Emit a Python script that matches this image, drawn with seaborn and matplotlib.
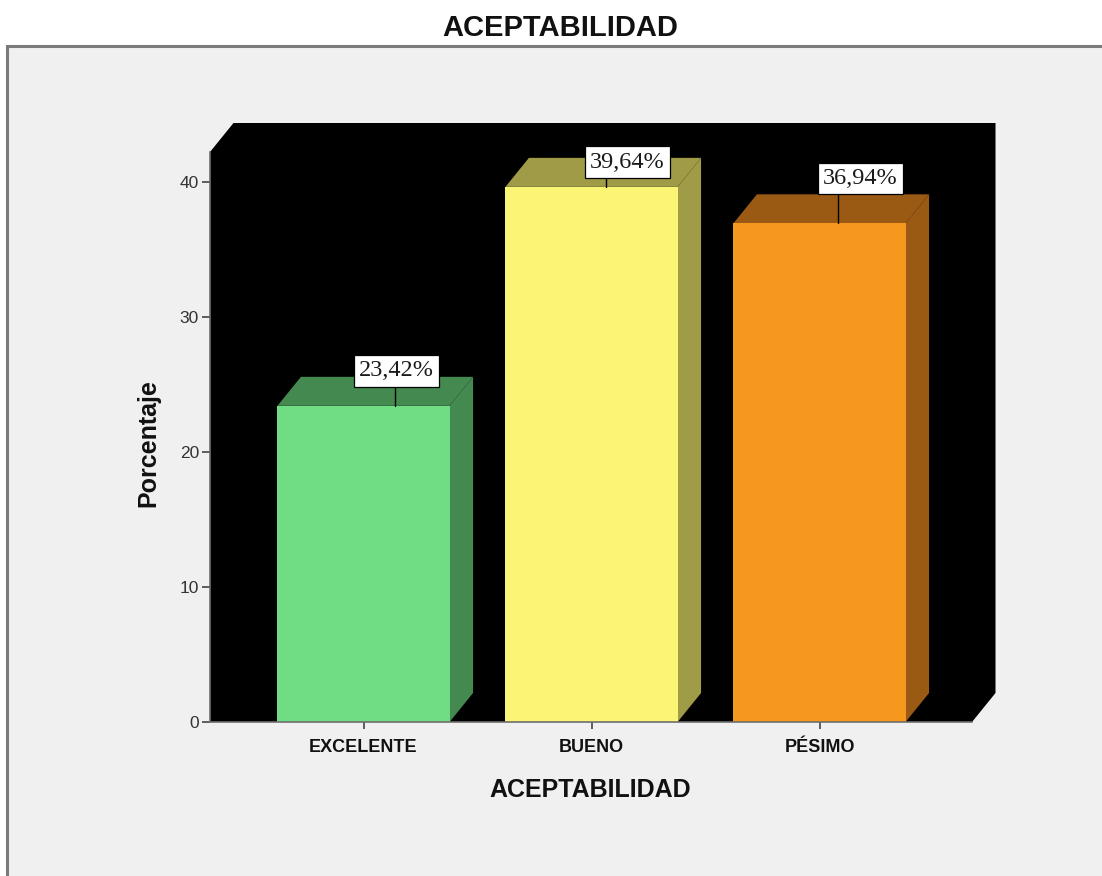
import matplotlib
matplotlib.use("Agg")
import matplotlib.pyplot as plt
from matplotlib.patches import Polygon, Rectangle
from matplotlib.transforms import IdentityTransform
import seaborn as sns
import pandas as pd

# Data
categories = ["EXCELENTE", "BUENO", "PÉSIMO"]
percentages = [23.42, 39.64, 36.94]
value_labels = ["23,42%", "39,64%", "36,94%"]
y_ticks = [0, 10, 20, 30, 40]

# Styling
front_colors = ["#70DC84", "#FAF575", "#F7981E"]
shade_colors = ["#448950", "#A09B46", "#9B5A14"]
depth_px = (23.5, 29.0)          # 3D depth offset of bars and back wall, in pixels
# per-bar label placement: (leader x offset from bar centre, gap above bar, box x offset from leader)
label_layout = [(31, 19, 2), (14, 9, 22), (18, 29, 23)]
label_size = 17.5
label_pad = 0.22

sns.set_theme(style="white")
plt.rcParams["font.family"] = ["Liberation Sans", "DejaVu Sans"]

W, H = 1102, 876
fig = plt.figure(figsize=(W / 100, H / 100), dpi=100)
fig.patch.set_facecolor("white")

# grey chart frame
frame = Rectangle((7 / W, -0.05), 1.2, (H - 46) / H + 0.05, transform=fig.transFigure,
                  facecolor="#F0F0F0", edgecolor="#7A7A7A", lw=2.2, zorder=-5)
fig.patches.append(frame)

ax = fig.add_axes([210 / W, (H - 722) / H, 762 / W, 570 / H])
ax.set_zorder(1)
ax.set_facecolor("none")

df = pd.DataFrame({"cat": categories, "pct": percentages})
sns.barplot(data=df, x="cat", y="pct", hue="cat", palette=front_colors, order=categories,
            hue_order=categories, saturation=1, width=0.755, legend=False, ax=ax,
            edgecolor="none", linewidth=0, zorder=2)
bars = list(ax.patches)

x0, x1 = -153.5 / 228, (972 - 363.5) / 228
y0, y1 = 0, 570 / 13.5
ax.set_xlim(x0, x1)
ax.set_ylim(y0, y1)

# depth offsets in data units
dx = depth_px[0] * (x1 - x0) / 762
dy = depth_px[1] * (y1 - y0) / 570

# black back wall / floor
wall = Polygon([(x0, 0), (x0, y1), (x0 + dx, y1 + dy), (x1 + dx, y1 + dy),
                (x1 + dx, dy), (x1, 0)], closed=True, facecolor="black",
               edgecolor="none", clip_on=False, zorder=0.5)
ax.add_patch(wall)

# side and top faces of each bar
for bar, shade in zip(bars, shade_colors):
    bx0 = bar.get_x()
    bx1 = bx0 + bar.get_width()
    h = bar.get_height()
    side = Polygon([(bx1, 0), (bx1 + dx, dy), (bx1 + dx, h + dy), (bx1, h)],
                   closed=True, facecolor=shade, edgecolor="none", clip_on=False, zorder=1.9)
    top = Polygon([(bx0, h), (bx0 + dx, h + dy), (bx1 + dx, h + dy), (bx1, h)],
                  closed=True, facecolor=shade, edgecolor="none", clip_on=False, zorder=1.9)
    ax.add_patch(side)
    ax.add_patch(top)

# value labels with leader lines
pad_px = label_pad * label_size * fig.dpi / 72
for i, (v, txt) in enumerate(zip(percentages, value_labels)):
    lx, gap, bx = label_layout[i]
    px, py = ax.transData.transform((i, v))
    ax.plot([px + lx, px + lx], [py, py + gap], color="black", lw=1,
            transform=IdentityTransform(), clip_on=False, zorder=5)
    ax.text(px + lx + bx, py + gap + pad_px, txt, transform=IdentityTransform(),
            ha="center", va="bottom", fontsize=label_size, color="#1A1A1A",
            family=["Liberation Serif", "DejaVu Serif"], zorder=6,
            bbox=dict(boxstyle=f"square,pad={label_pad}", facecolor="white",
                      edgecolor="black", lw=0.9))

# axes styling
for s in ["top", "right"]:
    ax.spines[s].set_visible(False)
for s in ["left", "bottom"]:
    ax.spines[s].set_color("#6E6E6E")
    ax.spines[s].set_linewidth(1.2)
    ax.spines[s].set_zorder(3)

ax.set_yticks(y_ticks)
ax.set_yticklabels([str(t) for t in y_ticks])
ax.tick_params(axis="y", length=6, width=1.2, color="#444444", pad=2,
               labelsize=12.5, labelcolor="#333333", left=True)
ax.tick_params(axis="x", length=5, width=1.2, color="#444444", pad=7,
               labelsize=13, labelcolor="#111111", bottom=True)
for lab in ax.get_xticklabels():
    lab.set_fontweight("bold")

ax.set_xlabel("ACEPTABILIDAD", fontsize=18, fontweight="bold", color="#111111", va="center")
ax.xaxis.set_label_coords((590 - 210) / 762, (722 - 790) / 570)
ax.set_ylabel("Porcentaje", fontsize=18, fontweight="bold", color="#111111", va="center")
ax.yaxis.set_label_coords((148 - 210) / 762, (722 - 443) / 570)

fig.text(560 / W, 1 - 28 / H, "ACEPTABILIDAD", ha="center", va="center",
         fontsize=21, fontweight="bold", color="#111111")

fig.savefig("out.png", dpi=100)
